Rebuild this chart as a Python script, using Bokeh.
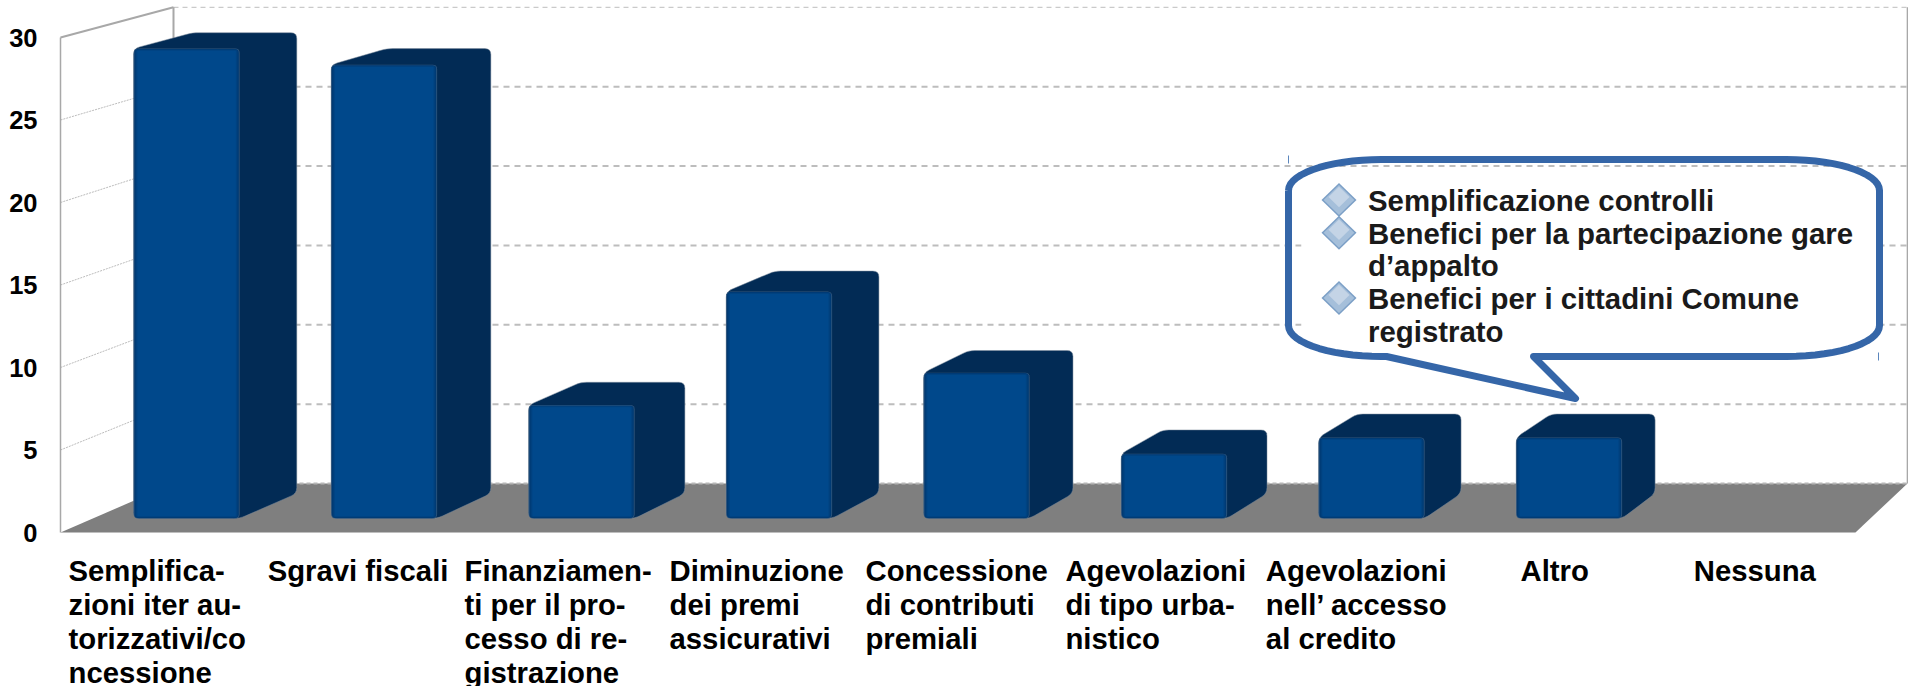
import numpy as np
from bokeh.core.properties import value
from bokeh.embed import file_html
from bokeh.models import ColumnDataSource, FixedTicker, LabelSet, Range1d
from bokeh.plotting import figure
from bokeh.resources import INLINE

categories = ["Semplifica-\nzioni iter au-\ntorizzativi/co\nncessione", "Sgravi fiscali",
              "Finanziamen-\nti per il pro-\ncesso di re-\ngistrazione", "Diminuzione\ndei premi\nassicurativi",
              "Concessione\ndi contributi\npremiali", "Agevolazioni\ndi tipo urba-\nnistico",
              "Agevolazioni\nnell\u2019 accesso\nal credito", "Altro", "Nessuna"]
values = [29, 28, 7, 14, 9, 4, 5, 5, 0]
y_ticks = [0, 5, 10, 15, 20, 25, 30]
callout_lines = ["Semplificazione controlli", "Benefici per la partecipazione gare", "d\u2019appalto",
                 "Benefici per i cittadini Comune", "registrato"]
callout_bullets = [True, True, False, True, False]

# layout (px)
W, H = 1908, 686
F_L, F_B = 58, 686      # frame left / bottom on the page
X0, Y0 = 60, 532        # page position of the chart's front-left corner
SLOT = 199.44           # px per category
PY = 16.5               # px per value unit at the front
DEPTH_PX, DEPTH_SHRINK = 113, 0.034
RISE_PX, BACK_RATIO = 49, 0.038
D0, D1, BAR_W, BAR_SHIFT, BAR_SCALE = 0.286, 0.796, 0.5365, -0.025, 0.993
BACK_EXTRA = 2.2 / SLOT
label_half_px = [91.7, 92, 94.6, 89, 92.5, 92, 91, 35.8, 62]
FONT = "Liberation Sans"


def xd(px):
    return (np.asarray(px, float) - X0) / SLOT - 0.5


def yd(py):
    return (Y0 - np.asarray(py, float)) / PY


def proj(x, v, d):
    px_from_left = (x + 0.5) * SLOT
    return x + d * (DEPTH_PX - DEPTH_SHRINK * px_from_left) / SLOT, d * RISE_PX / PY + v * (1 - BACK_RATIO * d)


def rounded(pts, r):
    """Round polygon corners; pts are in data units, r in px."""
    p_ = np.array(pts, float) * [SLOT, PY]
    n = len(p_)
    out = []
    for i in range(n):
        a, b, c = p_[i - 1], p_[i], p_[(i + 1) % n]
        u = (a - b) / np.linalg.norm(a - b)
        w = (c - b) / np.linalg.norm(c - b)
        for t in np.linspace(0, 1, 5):
            out.append((1 - t) ** 2 * (b + u * r) + 2 * t * (1 - t) * b + t ** 2 * (b + w * r))
    out = np.array(out) / [SLOT, PY]
    return out[:, 0].tolist(), out[:, 1].tolist()


p = figure(width=W, height=H, output_backend="svg", toolbar_location=None,
           x_range=Range1d(float(xd(F_L)), float(xd(W))), y_range=Range1d(float(yd(F_B)), float(yd(0))),
           x_axis_location=None, min_border_left=F_L, min_border_right=0, min_border_top=0,
           min_border_bottom=H - F_B, outline_line_color=None, background_fill_color="white")
p.grid.visible = False
ax = p.yaxis[0]
ax.ticker = FixedTicker(ticks=y_ticks)
ax.axis_line_color = None
ax.major_tick_line_color = None
ax.minor_tick_line_color = None
ax.major_label_standoff = 15
ax.major_label_text_font = FONT
ax.major_label_text_font_style = "bold"
ax.major_label_text_font_size = "25.5px"
ax.major_label_text_color = "#000000"

L, R = -0.5, 8.5
# floor
fx, fy = zip(*[proj(L, 0, 0), proj(L, 0, 1), proj(R, 0, 1), proj(R, 0, 0)])
p.patch(list(fx), list(fy), fill_color="#7f7f7f", line_color=None)
# gridlines
for t in y_ticks:
    bx, by = zip(*[proj(L, t, 1), proj(R, t, 1)])
    if t == 30:
        p.line(list(bx), list(by), line_color="#bdbdbd", line_width=1, line_dash="5 4")
    elif t == 0:
        p.line(list(bx), list(by), line_color="#b5b5b5", line_width=2, line_dash="4 3")
    else:
        p.line(list(bx), list(by), line_color="#bdbdbd", line_width=2, line_dash="6 5")
    if t not in (0, 30):
        sx, sy = zip(*[proj(L, t, 0), proj(L, t, 1)])
        p.line(list(sx), list(sy), line_color="#bcbcbc", line_width=1, line_dash="2 1")
# walls
wx, wy = zip(*[proj(L, 0, 0), proj(L, 30, 0), proj(L, 30, 1), proj(L, 0, 1)])
p.line(list(wx[:2]), list(wy[:2]), line_color="#a8a8a8", line_width=1.5)
p.line(list(wx[1:3]), list(wy[1:3]), line_color="#a8a8a8", line_width=2)
p.line(list(wx[2:]), list(wy[2:]), line_color="#a8a8a8", line_width=2)
rx, ry = zip(*[proj(R, 30, 1), proj(R, 0, 1)])
p.line(list(rx), list(ry), line_color="#a8a8a8", line_width=1.5)

# bars
dark_x, dark_y = [], []
layers = [("#33597f", 0), ("#003a73", 0.8), ("#003f7b", 1.8), ("#004483", 2.8), ("#00488b", 3.8)]
front = {c: ([], []) for c, _ in layers}
for i, v in enumerate(values):
    if v == 0:
        continue
    h = v * BAR_SCALE
    xl = i + BAR_SHIFT - BAR_W / 2
    xr = i + BAR_SHIFT + BAR_W / 2
    pts = [proj(xl, h, D0), proj(xl + BACK_EXTRA, h, D1), proj(xr + BACK_EXTRA, h, D1), proj(xr + BACK_EXTRA, 0, D1),
           proj(xr, 0, D0), proj(xl, 0, D0)]
    a, b = rounded(pts, 6)
    dark_x.append(a)
    dark_y.append(b)
    fl, ft = proj(xl, h, D0)
    fr, fb = proj(xr, 0, D0)
    for c, inset in layers:
        ix, iy = inset / SLOT, inset / PY * 0.6
        a, b = rounded([(fl + ix, fb + iy), (fl + ix, ft - iy), (fr - ix, ft - iy), (fr - ix, fb + iy)],
                       max(4.5 - inset, 1))
        front[c][0].append(a)
        front[c][1].append(b)
p.patches(dark_x, dark_y, fill_color="#022b55", line_color="#7f8c9c", line_width=0.5)
for c, _ in layers:
    p.patches(front[c][0], front[c][1], fill_color=c, line_color=None)

# category labels
lab = ColumnDataSource(dict(x=list(range(len(categories))), y=[0] * len(categories), text=categories,
                            xo=[-w for w in label_half_px]))
p.add_layout(LabelSet(x="x", y="y", text="text", source=lab, x_offset="xo", y_offset=-21, text_align="left",
                      text_baseline="top", text_font=value(FONT), text_font_style="bold", text_font_size="29.3px",
                      text_color="#000000", text_line_height=1.04))

# callout
CL, CR, CT, CB, RXC, RYC = 1288, 1879, 159, 356, 93, 31
TIP = (1575, 398)
TAIL_L, TAIL_R = 1386, 1533
t = np.linspace(0, np.pi / 2, 16)
px_, py_ = [], []
px_ += list(CL + RXC - RXC * np.cos(t)); py_ += list(CT + RYC - RYC * np.sin(t))
px_ += list(CR - RXC + RXC * np.sin(t)); py_ += list(CT + RYC - RYC * np.cos(t))
px_ += list(CR - RXC + RXC * np.cos(t)); py_ += list(CB - RYC + RYC * np.sin(t))
px_ += [TAIL_R, TIP[0], TAIL_L]; py_ += [CB, TIP[1], CB]
px_ += list(CL + RXC - RXC * np.sin(t)); py_ += list(CB - RYC + RYC * np.cos(t))
px_ += [CL]; py_ += [CT + RYC]
# white text box behind the callout's text, hiding the gridlines
p.quad(left=float(xd(1301)), right=float(xd(CR)), top=float(yd(167)), bottom=float(yd(CB)),
       fill_color="white", line_color=None)
p.line(xd(px_).tolist(), yd(py_).tolist(), line_color="#3566a8", line_width=7, line_join="round")
for tx, ta, tb in [(1288, 155, 163), (1878, 352, 360)]:
    p.line([float(xd(tx))] * 2, [float(yd(ta)), float(yd(tb))], line_color="#5b86bd", line_width=1)

line_y = [200, 232.7, 265.4, 298, 331]
p.text(x=[float(xd(1367.5))] * 5, y=yd(line_y).tolist(), text=callout_lines, text_font=value(FONT),
       text_font_style="bold", text_font_size="29.4px", text_color="#1a1a1a", text_baseline="middle", text_align="left")
# bullets
for ly, b in zip(line_y, callout_bullets):
    if not b:
        continue
    cx, cy = 1338.5, ly - 0.5
    for half, off, col in [(1.0, 0, "#7b9fc6"), (0.88, 0, "#a5bfda"), (0.6, -3, "#c4d4e6")]:
        hx, hy = 17.5 * half, 17 * half
        p.patch(xd([cx - hx, cx, cx + hx, cx]).tolist(),
                yd([cy + off, cy + off - hy, cy + off, cy + off + hy]).tolist(), fill_color=col, line_color=None)

open("out.html", "w").write(file_html(p, INLINE))
